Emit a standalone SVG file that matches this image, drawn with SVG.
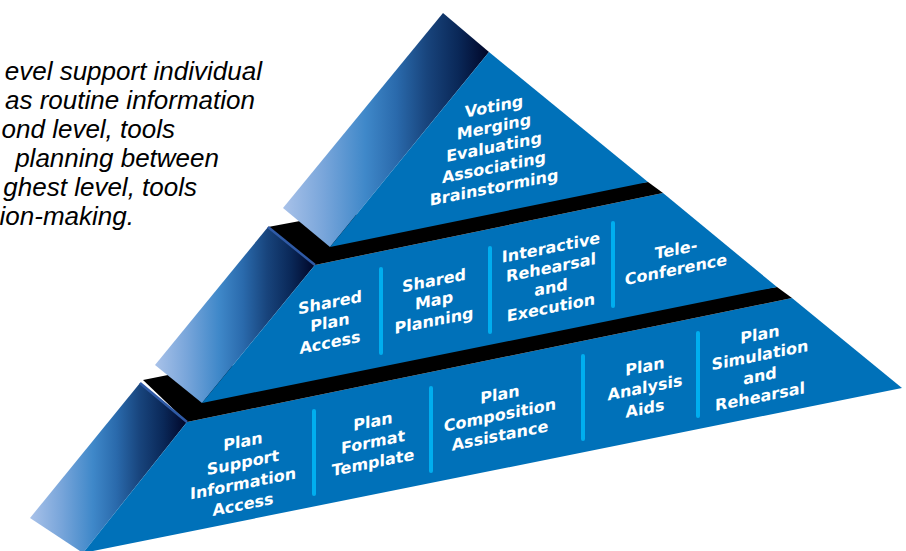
<svg xmlns="http://www.w3.org/2000/svg" width="906" height="551" viewBox="0 0 906 551">
<defs>
<linearGradient id="side" x1="0" y1="0" x2="1" y2="0">
<stop offset="0" stop-color="#a9c2e9"/>
<stop offset="0.2" stop-color="#78a5da"/>
<stop offset="0.4" stop-color="#3f88c9"/>
<stop offset="0.55" stop-color="#2a6aac"/>
<stop offset="0.7" stop-color="#18447c"/>
<stop offset="0.85" stop-color="#0a2858"/>
<stop offset="1" stop-color="#000628"/>
</linearGradient>
<style>
.front{fill:#0071b9}
.sidef{fill:url(#side)}
.ledge{fill:#000}
.edge{stroke:#2f5aa6;stroke-width:2.5;fill:none}
.div{stroke:#00aeef;stroke-width:4;stroke-linecap:round;fill:none}
.lbl{font-family:"DejaVu Sans",Verdana,sans-serif;font-weight:bold;font-size:16px;fill:#fff;text-anchor:middle}
.note{font-family:"Liberation Sans",Arial,sans-serif;font-style:italic;font-size:26px;fill:#000;text-anchor:end}
</style>
</defs>
<rect width="906" height="551" fill="#fff"/>

<g id="caption">
<text class="note" x="262" y="80">evel support individual</text>
<text class="note" x="255" y="109">as routine information</text>
<text class="note" x="175" y="138">ond level, tools</text>
<text class="note" x="219" y="167">planning between</text>
<text class="note" x="197" y="196">ghest level, tools</text>
<text class="note" x="134" y="225">ion-making.</text>
</g>

<g id="tier-bottom">
<polygon class="sidef" points="140,383 187,422 83,553 30,518"/>
<polygon class="front" points="187,422 792,298 902,388 83,553"/>
<polygon class="ledge" points="143,380 168,375 777,287 792,298 187,422"/>
<line class="edge" x1="140" y1="383" x2="187" y2="422"/>
</g>

<g id="tier-middle">
<polygon class="sidef" points="268,227 315,265 202,403 155,365"/>
<polygon class="front" points="315,265 663,193 777,287 202,403"/>
<polygon class="ledge" points="268,227 300,221 648,182 663,193 315,265"/>
<line class="edge" x1="268" y1="227" x2="315" y2="265"/>
</g>

<g id="tier-top">
<polygon class="sidef" points="443,13 489,52 330,247 283,208"/>
<polygon class="front" points="489,52 648,182 330,247"/>
</g>

<g id="dividers">
<line class="div" x1="381" y1="269" x2="381" y2="353"/>
<line class="div" x1="490" y1="248" x2="490" y2="332"/>
<line class="div" x1="613" y1="223" x2="613" y2="306"/>
<line class="div" x1="314" y1="411" x2="314" y2="494"/>
<line class="div" x1="431" y1="388" x2="431" y2="471"/>
<line class="div" x1="583" y1="356" x2="583" y2="439"/>
<line class="div" x1="698" y1="333" x2="698" y2="416"/>
</g>

<g id="label-top" transform="matrix(1,-0.2,0,1,494,112)">
<text class="lbl"><tspan x="0" y="0">Voting</tspan><tspan x="0" y="20.25">Merging</tspan><tspan x="0" y="40.5">Evaluating</tspan><tspan x="0" y="60.75">Associating</tspan><tspan x="0" y="81">Brainstorming</tspan></text>
</g>

<g id="label-shared-plan-access" transform="matrix(1,-0.2,0,1,330,308)">
<text class="lbl"><tspan x="0" y="0">Shared</tspan><tspan x="0" y="20">Plan</tspan><tspan x="0" y="40">Access</tspan></text>
</g>
<g id="label-shared-map-planning" transform="matrix(1,-0.2,0,1,434,286)">
<text class="lbl"><tspan x="0" y="0">Shared</tspan><tspan x="0" y="20">Map</tspan><tspan x="0" y="40">Planning</tspan></text>
</g>
<g id="label-interactive" transform="matrix(1,-0.2,0,1,551,253)">
<text class="lbl"><tspan x="0" y="0">Interactive</tspan><tspan x="0" y="20">Rehearsal</tspan><tspan x="0" y="40">and</tspan><tspan x="0" y="60">Execution</tspan></text>
</g>
<g id="label-teleconference" transform="matrix(1,-0.2,0,1,676,255)">
<text class="lbl"><tspan x="0" y="0">Tele-</tspan><tspan x="0" y="20">Conference</tspan></text>
</g>

<g id="label-plan-support" transform="matrix(1,-0.2,0,1,243,447)">
<text class="lbl"><tspan x="0" y="0">Plan</tspan><tspan x="0" y="21">Support</tspan><tspan x="0" y="42">Information</tspan><tspan x="0" y="63">Access</tspan></text>
</g>
<g id="label-plan-format" transform="matrix(1,-0.2,0,1,373,427)">
<text class="lbl"><tspan x="0" y="0">Plan</tspan><tspan x="0" y="20.5">Format</tspan><tspan x="0" y="41">Template</tspan></text>
</g>
<g id="label-plan-composition" transform="matrix(1,-0.2,0,1,500,400)">
<text class="lbl"><tspan x="0" y="0">Plan</tspan><tspan x="0" y="20.5">Composition</tspan><tspan x="0" y="41">Assistance</tspan></text>
</g>
<g id="label-plan-analysis" transform="matrix(1,-0.2,0,1,645,372)">
<text class="lbl"><tspan x="0" y="0">Plan</tspan><tspan x="0" y="21">Analysis</tspan><tspan x="0" y="42">Aids</tspan></text>
</g>
<g id="label-plan-simulation" transform="matrix(1,-0.2,0,1,760,340)">
<text class="lbl"><tspan x="0" y="0">Plan</tspan><tspan x="0" y="20.7">Simulation</tspan><tspan x="0" y="41.4">and</tspan><tspan x="0" y="62.1">Rehearsal</tspan></text>
</g>
</svg>
